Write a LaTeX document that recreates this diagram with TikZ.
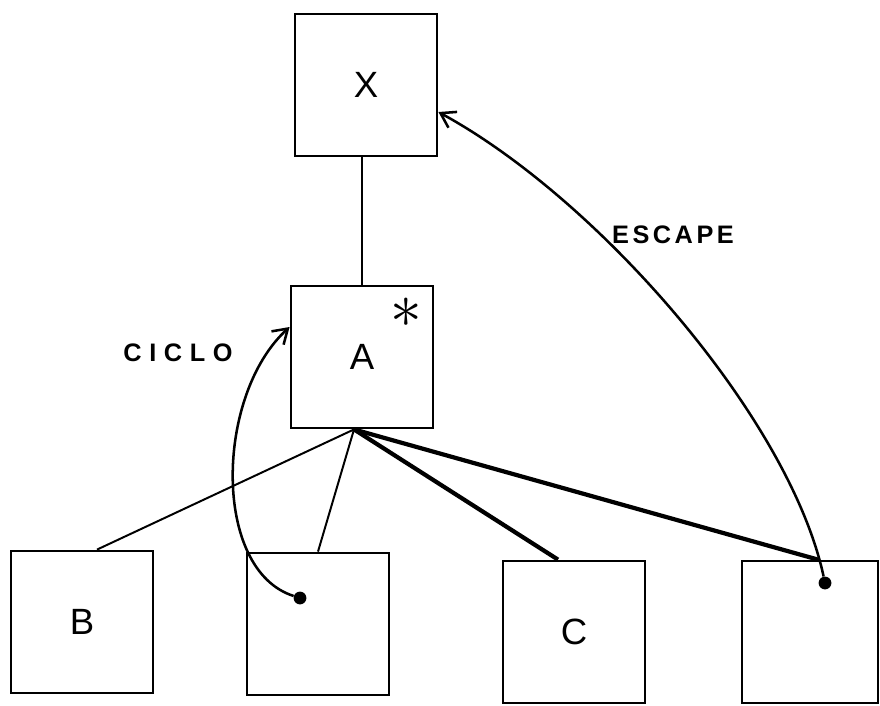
\documentclass[tikz,border=0pt]{standalone}
\usepackage{fontspec}
\setmainfont{Liberation Sans}
\newfontfamily\spaced[LetterSpace=30]{Liberation Sans}
\newfontfamily\tighter[LetterSpace=14]{Liberation Sans}
\usetikzlibrary{arrows.meta,calc,positioning}

\begin{document}
\begin{tikzpicture}[x=0.25mm,y=-0.25mm,>={Straight Barb[length=3.5mm,width=4.5mm]}]
  \tikzset{
    box/.style={draw,line width=2pt,inner sep=0pt,minimum width=35.5mm,minimum height=35.5mm,font=\fontsize{26}{30}\selectfont},
    dot/.style={circle,fill,inner sep=0pt,minimum size=3.2mm},
    tag/.style={font=\spaced\bfseries\fontsize{18}{20}\selectfont},
    thin/.style={line width=1.4pt},
    heavy/.style={line width=3pt},
    jump/.style={->,line width=1.8pt}
  }
  \useasboundingbox (0,0) rectangle (880,705);

  % Root and the marked node
  \node[box] (x) at (366,85) {X};
  \node[box] (a) at (362,357) {A};
  \node[inner sep=0pt] (star) at (406,313) {\scalebox{4.5}{$\ast$}};
  \draw[thin] (x.south -| a.north) -- (a.north);

  % Children of A
  \node[box] (b) at (82,622) {B};
  \node[box] (d) at (318,624) {};
  \node[box] (c) at (574,632) {C};
  \node[box,minimum width=34mm] (e) at (810,632) {};

  \coordinate (fork) at ([xshift=-2mm]a.south);
  \draw[thin] (fork) -- ([xshift=3.75mm]b.north);
  \draw[thin] (fork) -- (d.north);
  \draw[heavy] (fork) -- ([xshift=-4mm]c.north);
  \draw[heavy] (fork) -- ([xshift=2mm]e.north);

  % Points inside the leaves
  \node[dot] (p1) at (300,598) {};
  \node[dot] (p2) at (825,583) {};

  % Back edges
  \draw[jump] (p1) .. controls (212,570) and (215,395) .. ([yshift=7.5mm]a.west);
  \draw[jump] (p2) .. controls (790,420) and (600,200) .. ([yshift=-6.75mm]x.east);
  \node[tag] (ciclo) at (178,353) {CICLO};
  \node[tag,font=\tighter\bfseries\fontsize{18}{20}\selectfont] (escape) at (673,235) {ESCAPE};
\end{tikzpicture}
\end{document}
